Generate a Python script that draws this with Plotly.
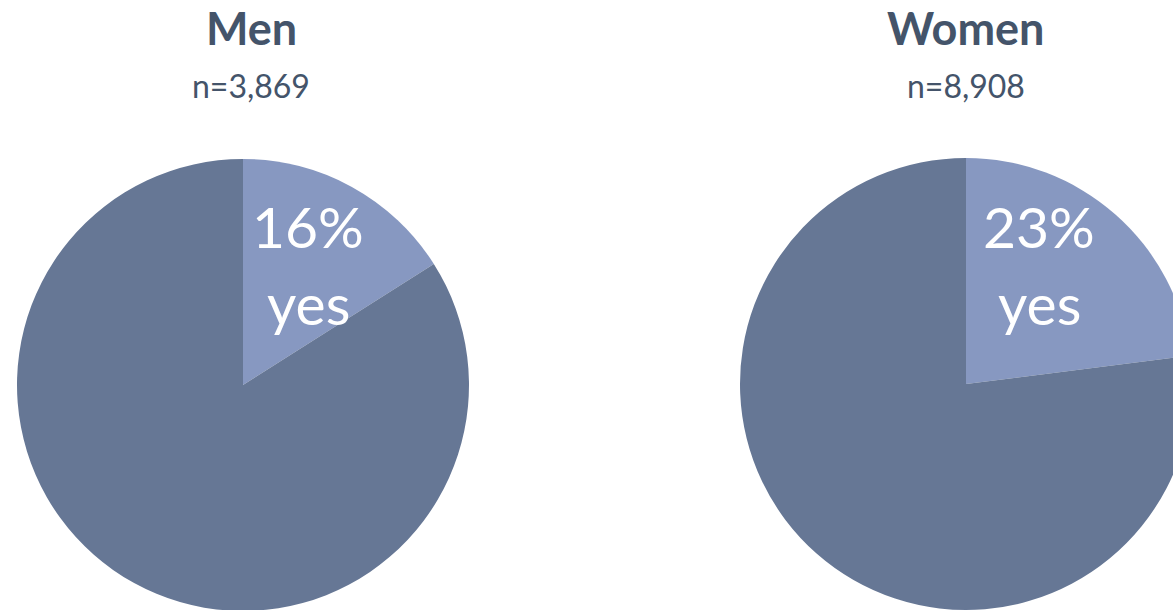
import plotly.graph_objects as go

# Share answering "yes" in each group, in percent
groups = ["Men", "Women"]
sample_sizes = ["3,869", "8,908"]
yes_share = [16, 23]
slice_labels = ["yes", "no"]

# Canvas is a little larger than the viewport so the right pie runs off the edge
W, H = 1200, 620
FONT = "Lato, 'Open Sans', sans-serif"
TEXT = "#44546A"
LIGHT = "#8798C1"
DARK = "#667795"

R = 226
centres = [(243, 385), (966, 384)]        # pie centres in pixels
title_x = [251, 966]                      # title centre in pixels
label_dx = [65, 73]                       # in-slice label offset from centre


def px(x):
    return x / W


def py(y):
    return 1 - y / H


fig = go.Figure()
annotations = []
for i, g in enumerate(groups):
    cx, cy = centres[i]
    fig.add_trace(go.Pie(
        labels=slice_labels,
        values=[yes_share[i], 100 - yes_share[i]],
        sort=False,
        direction="clockwise",
        rotation=0,
        marker=dict(colors=[LIGHT, DARK], line=dict(width=0)),
        textinfo="none",
        hoverinfo="label+percent",
        showlegend=False,
        domain=dict(x=[px(cx - R), px(cx + R)], y=[py(cy + R), py(cy - R)]),
    ))
    annotations += [
        dict(text=f"<b>{g}</b>", x=px(title_x[i]), y=py(28), font=dict(size=45, color=TEXT)),
        dict(text=f"n={sample_sizes[i]}", x=px(title_x[i]), y=py(85), font=dict(size=32, color=TEXT)),
        dict(text=f"{yes_share[i]}%", x=px(cx + label_dx[i]), y=py(226), font=dict(size=57, color="white")),
        dict(text=slice_labels[0], x=px(cx + label_dx[i]), y=py(303), font=dict(size=57, color="white")),
    ]

for a in annotations:
    a.update(xref="paper", yref="paper", xanchor="center", yanchor="middle", showarrow=False)

fig.update_layout(
    width=W, height=H,
    margin=dict(l=0, r=0, t=0, b=0),
    paper_bgcolor="white", plot_bgcolor="white",
    font=dict(family=FONT, color=TEXT),
    annotations=annotations,
)

fig.write_html(
    "out.html",
    config={"displayModeBar": False},
    post_script="document.body.style.margin='0';document.body.style.overflow='hidden';",
)
